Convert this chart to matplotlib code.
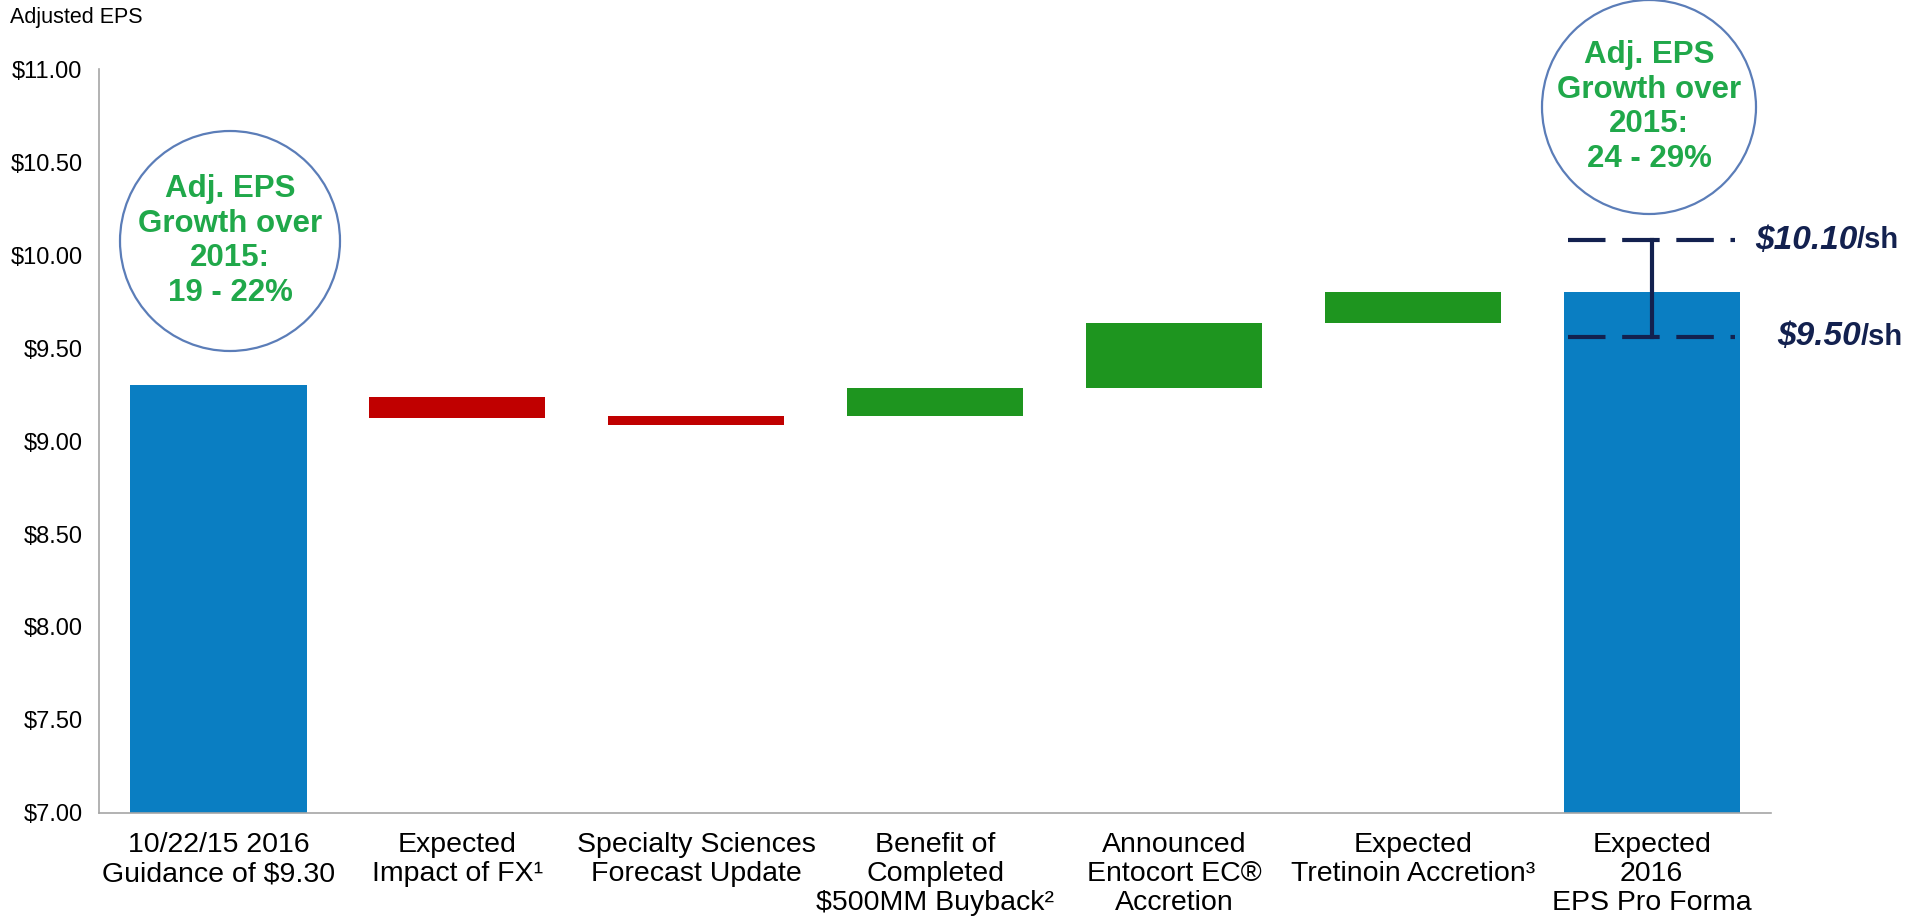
#waterfall of adjusted EPS guidance 2016
import matplotlib.pyplot as plt
from matplotlib.patches import Circle

plt.rcParams['font.family'] = ['Liberation Sans', 'DejaVu Sans']

# datos
categories = ['10/22/15 2016\nGuidance of $9.30',
              'Expected\nImpact of FX\u00b9',
              'Specialty Sciences\nForecast Update',
              'Benefit of\nCompleted\n$500MM Buyback\u00b2',
              'Announced\nEntocort EC\u00ae\nAccretion',
              'Expected\nTretinoin Accretion\u00b3',
              'Expected\n2016\nEPS Pro Forma']
bar_low = [7.00, 9.125, 9.085, 9.135, 9.285, 9.635, 7.00]
bar_high = [9.30, 9.235, 9.135, 9.285, 9.635, 9.80, 9.80]
bar_kind = ['total', 'down', 'down', 'up', 'up', 'up', 'total']
yticks = [7.0, 7.5, 8.0, 8.5, 9.0, 9.5, 10.0, 10.5, 11.0]
range_low, range_high = 9.56, 10.08
range_labels = ['$9.50', '$10.10']
growth_left = 'Adj. EPS\nGrowth over\n2015:\n19 - 22%'
growth_right = 'Adj. EPS\nGrowth over\n2015:\n24 - 29%'

colores = {'total': '#0A7EC2', 'down': '#C00000', 'up': '#1E951F'}
navy = '#13214F'
verde = '#20A84A'

fig = plt.figure(figsize=(19.05, 9.23), dpi=100)
ax = fig.add_axes([0.052, 0.1192, 0.8777, 0.806])

x = range(len(categories))
alturas = [h - l for l, h in zip(bar_low, bar_high)]
ax.bar(x, alturas, bottom=bar_low, width=0.737,
       color=[colores[k] for k in bar_kind])

ax.set_xlim(-0.5, 6.5)
ax.set_ylim(7.0, 11.0)
ax.set_yticks(yticks)
ax.set_yticklabels(['$%.2f' % v for v in yticks], fontsize=17)
ax.set_xticks(list(x))
ax.set_xticklabels(categories, fontsize=20.5, linespacing=1.15, va='top')
ax.tick_params(axis='both', length=0)
ax.tick_params(axis='y', pad=12)
ax.tick_params(axis='x', pad=14)
for s in ['top', 'right']:
    ax.spines[s].set_visible(False)
for s in ['left', 'bottom']:
    ax.spines[s].set_color('#A6A6A6')
    ax.spines[s].set_linewidth(1.2)

# rango de guia sobre la ultima barra
xf = len(categories) - 1
for yv in [range_low, range_high]:
    ax.plot([xf - 0.35, xf + 0.35], [yv, yv], color=navy, lw=3,
            linestyle=(0, (9, 4)), solid_capstyle='butt', clip_on=False)
ax.plot([xf, xf], [range_low, range_high], color=navy, lw=3, clip_on=False)
for yv, lab in zip([range_low, range_high], range_labels):
    xj = 6.86 if lab == '$10.10' else 6.875
    ax.text(xj, yv, lab, ha='right', va='center', fontsize=24,
            fontweight='bold', style='italic', color=navy, clip_on=False)
    ax.text(xj, yv, '/sh', ha='left', va='center', fontsize=21,
            fontweight='bold', color=navy, clip_on=False)

# circulos de crecimiento
for (cx, cy, r), txt in [((2.30, 6.82, 1.10), growth_left),
                         ((16.49, 8.16, 1.07), growth_right)]:
    c = Circle((cx, cy), r, transform=fig.dpi_scale_trans, facecolor='white',
               edgecolor='#5B7DB8', lw=1.6, zorder=5)
    fig.patches.append(c)
    fig.text(cx / 19.05, cy / 9.23, txt, ha='center', va='center',
             fontsize=22.5, fontweight='bold', color=verde, linespacing=1.2,
             zorder=6)

fig.text(10 / 1905, 1 - 18 / 923, 'Adjusted EPS', fontsize=15.5,
         ha='left', va='center')

plt.savefig('out.png', dpi=100)
